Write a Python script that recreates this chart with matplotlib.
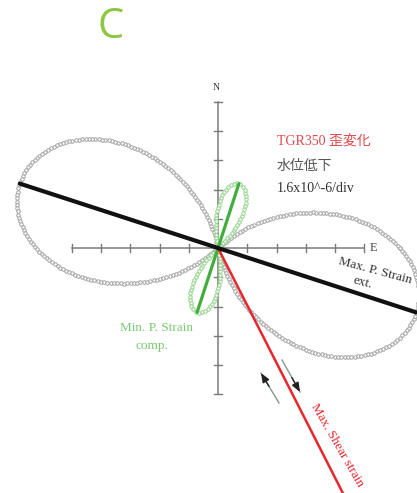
import numpy as np
import matplotlib
matplotlib.use("Agg")
import matplotlib.pyplot as plt

# ---------------- data ----------------
scale_per_div = 1.6                 # x10^-6 strain per division
principal_strains = [11.4, -3.7]    # x10^-6 : max (extension), min (compression)
max_axis_angle_deg = -18.0          # math angle (CCW from E) of max extension axis
axis_ticks = [-5, -4, -3, -2, -1, 1, 2, 3, 4, 5]
title_lines = ["TGR350 歪変化", "水位低下", "1.6x10^-6/div"]

# ---------------- layout helpers ----------------
W, H = 417, 493
CX, CY = 218, 248        # pixel position of origin
PPD = 29.25              # pixels per division

fig = plt.figure(figsize=(W / 100, H / 100), dpi=100)
ax = fig.add_axes([0, 0, 1, 1])
ax.set_xlim(-CX / PPD, (W - CX) / PPD)
ax.set_ylim(-(H - CY) / PPD, CY / PPD)
ax.axis("off")


def P(px, py):
    return ((px - CX) / PPD, (CY - py) / PPD)


serif = ["Liberation Serif", "Noto Sans CJK JP"]

# ---------------- axes with ticks ----------------
axc = "#7a7a7a"
lim = max(axis_ticks)
ax.plot([-lim, lim], [0, 0], color=axc, lw=1.1, zorder=1)
ax.plot([0, 0], [-lim, lim], color=axc, lw=1.1, zorder=1)
th = 0.13
for t in axis_ticks:
    ax.plot([t, t], [-th, th], color=axc, lw=1.0, zorder=1)
    ax.plot([-th, th], [t, t], color=axc, lw=1.0, zorder=1)

# ---------------- strain polar curve ----------------
e1, e2 = principal_strains
phi = np.deg2rad(max_axis_angle_deg)
theta = np.linspace(0, 2 * np.pi, 20001)
eps = e1 * np.cos(theta - phi) ** 2 + e2 * np.sin(theta - phi) ** 2
r = np.abs(eps) / scale_per_div
x = r * np.cos(theta)
y = r * np.sin(theta)

spacing = 3.3 / PPD


def resample(mask):
    out_x, out_y = [], []
    idx = np.where(mask)[0]
    splits = np.where(np.diff(idx) > 1)[0] + 1
    for run in np.split(idx, splits):
        rx, ry = x[run], y[run]
        d = np.hypot(np.diff(rx), np.diff(ry))
        s = np.concatenate([[0], np.cumsum(d)])
        n = max(int(s[-1] / spacing), 1)
        ss = np.linspace(0, s[-1], n + 1)
        out_x.append(np.interp(ss, s, rx))
        out_y.append(np.interp(ss, s, ry))
    return np.concatenate(out_x), np.concatenate(out_y)


gx, gy = resample(eps >= 0)
ax.plot(gx, gy, ls="none", marker="o", ms=2.5, mfc="white", mec="#a0a0a0",
        mew=0.7, zorder=2)
nx, ny = resample(eps < 0)
ax.plot(nx, ny, ls="none", marker="o", ms=2.5, mfc="white", mec="#8fd386",
        mew=0.7, zorder=2)

# principal axes
L1 = e1 / scale_per_div
L2 = abs(e2) / scale_per_div
ax.plot([L1 * np.cos(phi + np.pi), L1 * np.cos(phi)],
        [L1 * np.sin(phi + np.pi), L1 * np.sin(phi)],
        color="#111111", lw=3.0, solid_capstyle="round", zorder=4)
pm = phi + np.pi / 2
ax.plot([L2 * np.cos(pm + np.pi), L2 * np.cos(pm)],
        [L2 * np.sin(pm + np.pi), L2 * np.sin(pm)],
        color="#41ad3c", lw=2.3, solid_capstyle="round", zorder=3)

# max shear strain line
Ls = (e1 - e2) / scale_per_div
ps = phi - np.pi / 4
ax.plot([0, Ls * np.cos(ps)], [0, Ls * np.sin(ps)], color="#e8262b", lw=1.8,
        zorder=3)

# shear sense arrows
for tail, tip in [((279, 403), (261, 373)), ((282, 360), (300, 392))]:
    a, b = P(*tail), P(*tip)
    ax.plot([a[0], b[0]], [a[1], b[1]], color="#8a968a", lw=1.0, zorder=3)
    mid = (a[0] + 0.55 * (b[0] - a[0]), a[1] + 0.55 * (b[1] - a[1]))
    ax.annotate("", xy=b, xytext=mid,
                arrowprops=dict(arrowstyle="-|>,head_length=0.55,head_width=0.22",
                                color="#222222", lw=1.0, shrinkA=0, shrinkB=0),
                zorder=5)

# ---------------- texts ----------------
fig.text(97 / W, 1 - 38 / H, "C", fontsize=30, color="#8dc63f",
         family="Open Sans", ha="left", va="baseline")

ax.text(*P(216, 88), "N", fontsize=7, color="#333333", family=serif,
        ha="center", va="center")
ax.text(*P(370, 248), "E", fontsize=9, color="#444444", family=serif,
        ha="left", va="center")

ax.text(*P(277, 141), title_lines[0], fontsize=10, color="#e0474c",
        family=serif, ha="left", va="center")
ax.text(*P(277, 166), title_lines[1], fontsize=10, color="#555555",
        family=serif, ha="left", va="center")
ax.text(*P(277, 188), title_lines[2], fontsize=10, color="#333333",
        family=serif, ha="left", va="center")

ax.text(*P(375, 271), "Max. P. Strain", fontsize=9.5, color="#333333",
        family=serif, ha="center", va="center", rotation=-15,
        rotation_mode="anchor")
ax.text(*P(363, 283), "ext.", fontsize=9.5, color="#333333",
        family=serif, ha="center", va="center", rotation=-15,
        rotation_mode="anchor")

ax.text(*P(157, 328), "Min. P. Strain", fontsize=9.5, color="#7dc874",
        family=serif, ha="center", va="center")
ax.text(*P(152, 346), "comp.", fontsize=9.5, color="#7dc874",
        family=serif, ha="center", va="center")

ax.text(*P(337, 445), "Max. Shear strain", fontsize=9.5, color="#e8262b",
        family=serif, ha="center", va="center", rotation=-60,
        rotation_mode="anchor")

fig.savefig("out.png", dpi=100, facecolor="white")
